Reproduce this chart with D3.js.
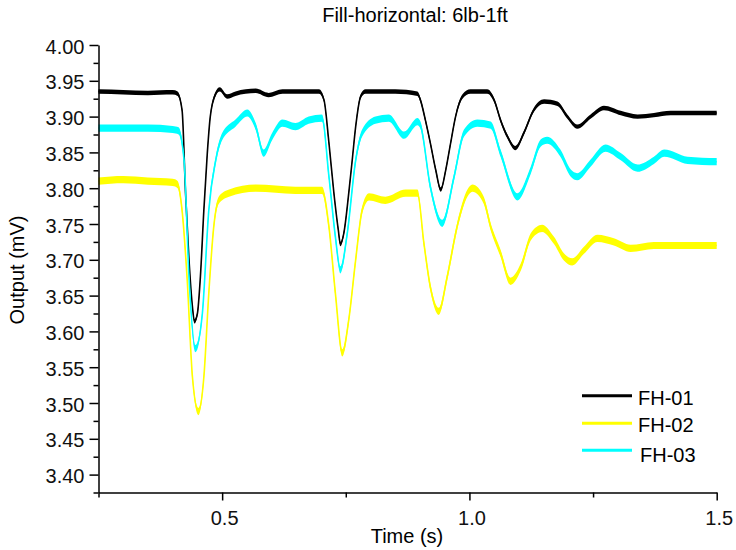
<!DOCTYPE html>
<html>
<head>
<meta charset="utf-8">
<script src="https://cdn.jsdelivr.net/npm/d3@7/dist/d3.min.js"></script>
<style>
  html, body { margin: 0; padding: 0; background: #fff; }
  svg { display: block; font-family: "Liberation Sans", Arial, Helvetica, sans-serif; }
</style>
</head>
<body>
<svg id="chart" width="736" height="550"></svg>
<script>
// ---- Data ----
const chartTitle = "Fill-horizontal: 6lb-1ft";
const xLabel = "Time (s)";
const yLabel = "Output (mV)";
const seriesNames = ["FH-01", "FH-02", "FH-03"];
const seriesColors = ["#000000", "#ffff00", "#00ffff"];

const xMajorTicks = [0.5, 1.0, 1.5];
const xMinorTicks = [0.25, 0.75, 1.25];
const yMajorTicks = [3.40, 3.45, 3.50, 3.55, 3.60, 3.65, 3.70, 3.75, 3.80, 3.85, 3.90, 3.95, 4.00];
const yMinorTicks = [3.375, 3.425, 3.475, 3.525, 3.575, 3.625, 3.675, 3.725, 3.775, 3.825, 3.875, 3.925, 3.975];

// FH-01 (black)
const fh01Time = [0.25, 0.30, 0.35, 0.40, 0.410, 0.419, 0.426, 0.433, 0.440, 0.444, 0.450, 0.456, 0.463, 0.470, 0.476, 0.487, 0.495, 0.510, 0.527, 0.568, 0.594, 0.622, 0.662, 0.696, 0.706, 0.716, 0.726, 0.735, 0.739, 0.746, 0.756, 0.763, 0.770, 0.780, 0.790, 0.85, 0.895, 0.901, 0.911, 0.921, 0.932, 0.942, 0.952, 0.962, 0.972, 0.986, 1.002, 1.036, 1.050, 1.063, 1.077, 1.093, 1.110, 1.130, 1.151, 1.178, 1.198, 1.218, 1.245, 1.272, 1.306, 1.340, 1.373, 1.407, 1.454, 1.50];
const fh01Value = [3.935, 3.934, 3.933, 3.934, 3.932, 3.909, 3.793, 3.700, 3.634, 3.614, 3.625, 3.676, 3.769, 3.849, 3.900, 3.932, 3.938, 3.928, 3.932, 3.936, 3.930, 3.935, 3.935, 3.935, 3.923, 3.863, 3.793, 3.741, 3.722, 3.737, 3.793, 3.839, 3.886, 3.928, 3.935, 3.935, 3.932, 3.923, 3.895, 3.863, 3.825, 3.798, 3.825, 3.863, 3.900, 3.928, 3.935, 3.935, 3.923, 3.895, 3.872, 3.856, 3.877, 3.909, 3.921, 3.918, 3.900, 3.886, 3.900, 3.912, 3.905, 3.900, 3.902, 3.905, 3.905, 3.905];

// FH-02 (yellow)
const fh02Time = [0.25, 0.30, 0.35, 0.40, 0.410, 0.419, 0.429, 0.440, 0.452, 0.463, 0.473, 0.483, 0.493, 0.514, 0.568, 0.648, 0.702, 0.716, 0.729, 0.743, 0.756, 0.770, 0.783, 0.797, 0.830, 0.871, 0.895, 0.908, 0.921, 0.938, 0.955, 0.975, 0.996, 1.006, 1.029, 1.043, 1.063, 1.083, 1.104, 1.124, 1.147, 1.171, 1.191, 1.208, 1.231, 1.259, 1.292, 1.326, 1.373, 1.45, 1.50];
const fh02Value = [3.810, 3.812, 3.810, 3.808, 3.805, 3.769, 3.676, 3.536, 3.488, 3.536, 3.653, 3.746, 3.783, 3.793, 3.800, 3.797, 3.797, 3.746, 3.653, 3.570, 3.616, 3.700, 3.769, 3.788, 3.783, 3.793, 3.793, 3.723, 3.662, 3.628, 3.676, 3.746, 3.793, 3.800, 3.783, 3.746, 3.709, 3.670, 3.690, 3.732, 3.744, 3.727, 3.704, 3.697, 3.713, 3.730, 3.725, 3.716, 3.720, 3.720, 3.720];

// FH-03 (cyan)
const fh03Time = [0.25, 0.30, 0.35, 0.40, 0.412, 0.423, 0.433, 0.446, 0.460, 0.473, 0.487, 0.500, 0.527, 0.551, 0.568, 0.584, 0.601, 0.622, 0.648, 0.675, 0.702, 0.716, 0.729, 0.739, 0.753, 0.770, 0.783, 0.810, 0.837, 0.868, 0.895, 0.901, 0.921, 0.945, 0.969, 0.989, 1.016, 1.043, 1.063, 1.097, 1.124, 1.144, 1.157, 1.184, 1.205, 1.218, 1.245, 1.275, 1.306, 1.340, 1.373, 1.394, 1.441, 1.50];
const fh03Value = [3.884, 3.884, 3.884, 3.882, 3.880, 3.839, 3.676, 3.576, 3.625, 3.769, 3.839, 3.872, 3.891, 3.905, 3.886, 3.849, 3.872, 3.891, 3.886, 3.895, 3.898, 3.816, 3.732, 3.686, 3.737, 3.839, 3.877, 3.895, 3.898, 3.874, 3.893, 3.888, 3.802, 3.751, 3.816, 3.877, 3.891, 3.888, 3.849, 3.788, 3.825, 3.863, 3.867, 3.849, 3.821, 3.816, 3.835, 3.856, 3.844, 3.828, 3.839, 3.849, 3.839, 3.837];

const seriesTimes = [fh01Time, fh02Time, fh03Time];
const seriesValues = [fh01Value, fh02Value, fh03Value];

// ---- Layout ----
const svg = d3.select("#chart");
const xLeft = 98.5, xRight = 716.7, yTop = 45, yBottom = 492.5;

const x = d3.scaleLinear().domain([0.25, 1.5]).range([xLeft, xRight]);
const y = d3.scaleLinear().domain([3.375, 4.0]).range([yBottom, yTop]);

// Title
svg.append("text")
  .attr("x", 415).attr("y", 22)
  .attr("text-anchor", "middle")
  .attr("font-size", 20)
  .text(chartTitle);

// Series (noise band as constant-thickness area + thin line)
const halfBand = [2.2, 3.6, 3.6];
const drawOrder = [0, 1, 2];
drawOrder.forEach(i => {
  const pts = seriesTimes[i].map((t, j) => [t, seriesValues[i][j]]);
  const hb = halfBand[i];
  const area = d3.area()
    .x(d => x(d[0]))
    .y0(d => y(d[1]) + hb)
    .y1(d => y(d[1]) - hb)
    .curve(d3.curveMonotoneX);
  const line = d3.line()
    .x(d => x(d[0]))
    .y(d => y(d[1]))
    .curve(d3.curveMonotoneX);
  svg.append("path").datum(pts)
    .attr("d", area)
    .attr("fill", seriesColors[i]);
  svg.append("path").datum(pts)
    .attr("d", line)
    .attr("fill", "none")
    .attr("stroke", seriesColors[i])
    .attr("stroke-width", 1.6);
});

// Y axis
const yAxisG = svg.append("g").attr("transform", `translate(${xLeft},0)`);
yAxisG.call(d3.axisLeft(y).tickValues(yMinorTicks).tickSize(5).tickSizeOuter(0).tickFormat(""));
const yMajG = svg.append("g").attr("transform", `translate(${xLeft},0)`);
yMajG.call(d3.axisLeft(y).tickValues(yMajorTicks).tickSize(9).tickSizeOuter(0).tickPadding(5).tickFormat(d3.format(".2f")));
yMajG.select(".domain").remove();

// X axis
const xAxisG = svg.append("g").attr("transform", `translate(0,${yBottom})`);
xAxisG.call(d3.axisBottom(x).tickValues(xMinorTicks).tickSize(5).tickSizeOuter(0).tickFormat(""));
const xMajG = svg.append("g").attr("transform", `translate(0,${yBottom})`);
xMajG.call(d3.axisBottom(x).tickValues(xMajorTicks).tickSize(8).tickSizeOuter(0).tickPadding(10).tickFormat(d3.format(".1f")));
xMajG.select(".domain").remove();
xMajG.selectAll("text").attr("dx", 2);

svg.selectAll(".domain, .tick line").attr("stroke", "#000").attr("stroke-width", 1.5);
svg.selectAll(".tick text").attr("font-size", 20).attr("fill", "#111")
  .attr("font-family", "'Liberation Sans', Arial, sans-serif");
yMajG.selectAll("text").attr("dy", "0.40em");

// Axis labels
svg.append("text")
  .attr("x", 407).attr("y", 543)
  .attr("text-anchor", "middle")
  .attr("font-size", 20)
  .text(xLabel);
svg.append("text")
  .attr("transform", "translate(24,270) rotate(-90)")
  .attr("text-anchor", "middle")
  .attr("font-size", 20)
  .text(yLabel);

// Legend
const legendLineY = [395.7, 423.3, 450.3];
const legendTextX = [638, 638, 640];
const legendTextY = [405, 432.3, 461.5];
seriesNames.forEach((name, i) => {
  svg.append("line")
    .attr("x1", 582).attr("x2", 632)
    .attr("y1", legendLineY[i]).attr("y2", legendLineY[i])
    .attr("stroke", seriesColors[i]).attr("stroke-width", 3);
  svg.append("text")
    .attr("x", legendTextX[i]).attr("y", legendTextY[i])
    .attr("font-size", 20)
    .text(name);
});
</script>
</body>
</html>
